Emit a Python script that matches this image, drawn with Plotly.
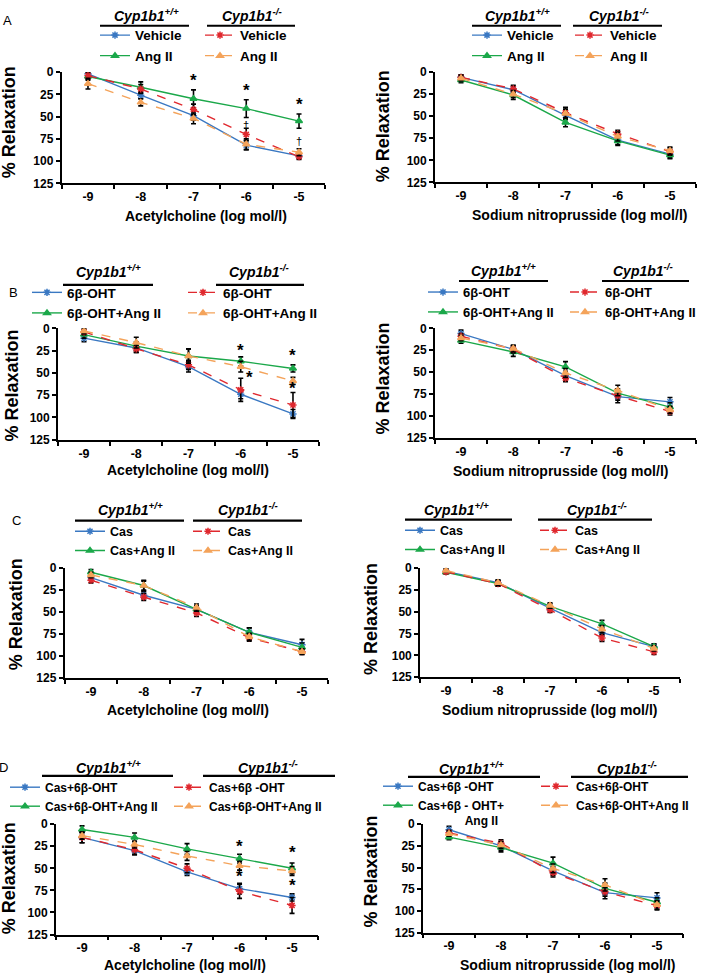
import plotly.graph_objects as go

W, H = 709, 979
doses = [-9, -8, -7, -6, -5]
tick_vals = [-9, -8, -7, -6, -5]
y_ticks = [0, 25, 50, 75, 100, 125]

# ---------------- data (% relaxation, mean and error) ----------------
# Panel A
A_ach_wt_veh = [2, 26, 49, 82, 94];   A_ach_wt_veh_e = [3, 4, 5, 5, 3]
A_ach_wt_ang = [5, 17, 30, 41, 55];   A_ach_wt_ang_e = [4, 6, 10, 10, 8]
A_ach_ko_veh = [4, 19, 42, 70, 95];   A_ach_ko_veh_e = [4, 5, 6, 7, 3]
A_ach_ko_ang = [13, 34, 52, 81, 90];  A_ach_ko_ang_e = [6, 4, 6, 6, 4]
A_snp_wt_veh = [6, 20, 49, 77, 93];   A_snp_wt_veh_e = [3, 4, 5, 5, 4]
A_snp_wt_ang = [9, 26, 57, 78, 94];   A_snp_wt_ang_e = [3, 5, 5, 5, 4]
A_snp_ko_veh = [6, 19, 46, 70, 90];   A_snp_ko_veh_e = [3, 4, 6, 4, 4]
A_snp_ko_ang = [7, 25, 47, 73, 89];   A_snp_ko_ang_e = [3, 4, 5, 5, 4]
# Panel B
B_ach_wt_oht = [11, 22, 43, 74, 96];  B_ach_wt_oht_e = [4, 5, 6, 5, 5]
B_ach_wt_ang = [7, 20, 31, 37, 45];   B_ach_wt_ang_e = [4, 5, 8, 5, 4]
B_ach_ko_oht = [4, 23, 41, 69, 86];   B_ach_ko_oht_e = [3, 4, 5, 13, 14]
B_ach_ko_ang = [3, 16, 31, 43, 59];   B_ach_ko_ang_e = [3, 6, 8, 6, 4]
B_snp_wt_oht = [6, 24, 54, 78, 84];   B_snp_wt_oht_e = [4, 4, 5, 7, 5]
B_snp_wt_ang = [14, 27, 44, 74, 90];  B_snp_wt_ang_e = [3, 5, 6, 5, 5]
B_snp_ko_oht = [9, 24, 57, 77, 95];   B_snp_ko_oht_e = [3, 4, 4, 5, 4]
B_snp_ko_ang = [11, 23, 51, 71, 93];  B_snp_ko_ang_e = [3, 4, 5, 6, 4]
# Panel C
C_ach_wt_cas = [11, 31, 47, 73, 87];  C_ach_wt_cas_e = [3, 4, 4, 5, 6]
C_ach_wt_ang = [5, 20, 47, 73, 90];   C_ach_wt_ang_e = [3, 6, 4, 5, 5]
C_ach_ko_cas = [14, 33, 51, 79, 95];  C_ach_ko_cas_e = [3, 4, 4, 4, 3]
C_ach_ko_ang = [8, 20, 45, 78, 95];   C_ach_ko_ang_e = [3, 5, 4, 4, 3]
C_snp_wt_cas = [4, 17, 46, 74, 90];   C_snp_wt_cas_e = [2, 3, 3, 4, 3]
C_snp_wt_ang = [5, 18, 44, 64, 90];   C_snp_wt_ang_e = [2, 3, 3, 4, 3]
C_snp_ko_cas = [4.5, 18, 48, 80, 96]; C_snp_ko_cas_e = [2, 3, 3, 4, 3]
C_snp_ko_ang = [3, 17, 43, 70, 92];   C_snp_ko_ang_e = [2, 3, 3, 4, 3]
# Panel D
D_ach_wt_oht = [15, 30, 54, 73, 83];  D_ach_wt_oht_e = [6, 5, 4, 6, 4]
D_ach_wt_ang = [6, 15, 28, 39, 50];   D_ach_wt_ang_e = [4, 5, 6, 5, 6]
D_ach_ko_oht = [15, 29, 50, 76, 92];  D_ach_ko_oht_e = [6, 5, 5, 8, 9]
D_ach_ko_ang = [13, 23, 36, 47, 53];  D_ach_ko_ang_e = [4, 4, 5, 5, 5]
D_snp_wt_oht = [6.5, 25, 54, 79, 85]; D_snp_wt_oht_e = [4, 5, 5, 7, 6]
D_snp_wt_ang = [15, 27, 45, 74, 90];  D_snp_wt_ang_e = [3, 5, 7, 6, 5]
D_snp_ko_oht = [10, 22, 56, 78, 94];  D_snp_ko_oht_e = [3, 4, 5, 5, 5]
D_snp_ko_ang = [11, 24, 51, 70, 93];  D_snp_ko_ang_e = [3, 4, 5, 7, 5]

# legend names
A_names = ["Vehicle", "Ang II", "Vehicle", "Ang II"]
B_names = ["6β-OHT", "6β-OHT+Ang II", "6β-OHT", "6β-OHT+Ang II"]
C_names = ["Cas", "Cas+Ang II", "Cas", "Cas+Ang II"]
D_names_l = ["Cas+6β-OHT", "Cas+6β-OHT+Ang II", "Cas+6β -OHT", "Cas+6β-OHT+Ang II"]
D_names_r = ["Cas+6β -OHT", "Cas+6β - OHT+<br>\u00a0\u00a0\u00a0\u00a0\u00a0\u00a0\u00a0\u00a0\u00a0\u00a0\u00a0\u00a0\u00a0\u00a0Ang II",
             "Cas+6β-OHT", "Cas+6β-OHT+Ang II"]

x_titles = ["Acetylcholine (log mol/l)", "Sodium nitroprusside (log mol/l)"]

# significance marks: (panel index, dose, value, text)
sig_marks = [
    (0, -7, 9, "*"), (0, -6, 21, "*"), (0, -5, 36, "*"),
    (0, -6, 59, "†"), (0, -5, 77, "†"),
    (2, -6, 25, "*"), (2, -5.84, 55, "*"), (2, -5, 30, "*"), (2, -5, 67, "*"),
    (6, -6, 25, "*"), (6, -6, 59, "*"), (6, -5, 32, "*"), (6, -5, 70, "*"),
]

# ---------------- layout geometry (pixels) ----------------
panels_px = [
    (61.6, 325.4, 66, 179), (434.9, 696.1, 66, 178),
    (57.9, 319.1, 326, 439), (434.9, 696.1, 326, 437),
    (64.6, 328.4, 569, 681), (420, 680, 569, 680),
    (55.8, 318.3, 829, 941), (423, 683, 829, 939),
]
headers = [
    (146, 252, 8, (100, 189), (207, 295), 19),
    (517, 619, 8, (472, 561), (573, 662), 19),
    (108, 259, 268, (63, 153), (216, 304), 282),
    (503, 643, 267, (459, 548), (602, 689), 278),
    (130, 248, 509, (75, 184), (193, 302), 521),
    (456, 597, 509, (405, 512), (538, 652), 520),
    (108, 268, 771, (42, 173), (203, 335), 780),
    (471, 627, 772, (408, 540), (571, 688), 781),
]
legends_px = [
    (100, 205, 31), (472, 575, 31),
    (32, 188, 292), (428, 570, 292),
    (75, 193, 535), (405, 540, 534),
    (10, 174, 795), (383, 541, 794),
]
legend_fonts = [13.5, 13.5, 13.5, 13, 12.5, 12.5, 12, 12]
ytitle_px = [(9, 117), (383, 121), (12, 384), (383, 377), (16, 616), (371, 621), (9, 884), (371, 877)]
xtitle_px = [(206, 212), (579, 211), (188, 470), (560, 471), (188, 713), (549, 713), (185, 972), (567, 972)]
panel_labels = [("A", 7, 14), ("B", 13, 290), ("C", 16, 521), ("D", 3, 772)]

series_sets = [
    ([A_ach_wt_veh, A_ach_wt_ang, A_ach_ko_veh, A_ach_ko_ang],
     [A_ach_wt_veh_e, A_ach_wt_ang_e, A_ach_ko_veh_e, A_ach_ko_ang_e], A_names),
    ([A_snp_wt_veh, A_snp_wt_ang, A_snp_ko_veh, A_snp_ko_ang],
     [A_snp_wt_veh_e, A_snp_wt_ang_e, A_snp_ko_veh_e, A_snp_ko_ang_e], A_names),
    ([B_ach_wt_oht, B_ach_wt_ang, B_ach_ko_oht, B_ach_ko_ang],
     [B_ach_wt_oht_e, B_ach_wt_ang_e, B_ach_ko_oht_e, B_ach_ko_ang_e], B_names),
    ([B_snp_wt_oht, B_snp_wt_ang, B_snp_ko_oht, B_snp_ko_ang],
     [B_snp_wt_oht_e, B_snp_wt_ang_e, B_snp_ko_oht_e, B_snp_ko_ang_e], B_names),
    ([C_ach_wt_cas, C_ach_wt_ang, C_ach_ko_cas, C_ach_ko_ang],
     [C_ach_wt_cas_e, C_ach_wt_ang_e, C_ach_ko_cas_e, C_ach_ko_ang_e], C_names),
    ([C_snp_wt_cas, C_snp_wt_ang, C_snp_ko_cas, C_snp_ko_ang],
     [C_snp_wt_cas_e, C_snp_wt_ang_e, C_snp_ko_cas_e, C_snp_ko_ang_e], C_names),
    ([D_ach_wt_oht, D_ach_wt_ang, D_ach_ko_oht, D_ach_ko_ang],
     [D_ach_wt_oht_e, D_ach_wt_ang_e, D_ach_ko_oht_e, D_ach_ko_ang_e], D_names_l),
    ([D_snp_wt_oht, D_snp_wt_ang, D_snp_ko_oht, D_snp_ko_ang],
     [D_snp_wt_oht_e, D_snp_wt_ang_e, D_snp_ko_oht_e, D_snp_ko_ang_e], D_names_r),
]

colors = ["#3A78C2", "#1BA84A", "#E0282E", "#F4A35A"]
dashes = ["solid", "solid", "dash", "dash"]
symbols = ["asterisk-open", "triangle-up", "asterisk-open", "triangle-up"]

FONT = "Liberation Sans, Arial, sans-serif"


def px2x(p):
    return p / W


def px2y(p):
    return 1 - p / H


fig = go.Figure()
layout = dict(
    width=W, height=H, margin=dict(l=0, r=0, t=0, b=0),
    paper_bgcolor="white", plot_bgcolor="white",
    font=dict(family=FONT, color="black"),
    annotations=[], shapes=[],
)

for i, (x0, x1, yt, yb) in enumerate(panels_px):
    ax = "" if i == 0 else str(i + 1)
    vals, errs, names = series_sets[i]
    for s in range(4):
        leg_idx = 2 * i + (0 if s < 2 else 1) + 1
        leg_name = "legend" if leg_idx == 1 else f"legend{leg_idx}"
        fig.add_trace(go.Scatter(
            x=doses, y=vals[s], name=names[s],
            mode="lines+markers",
            line=dict(color=colors[s], width=1.4, dash=dashes[s]),
            marker=dict(symbol=symbols[s], size=6, color=colors[s],
                        line=dict(color=colors[s], width=1.5)),
            error_y=dict(type="data", array=errs[s], color="black",
                         thickness=1.6, width=2.5),
            xaxis="x" + ax, yaxis="y" + ax, legend=leg_name,
        ))
    layout["xaxis" + ax] = dict(
        domain=[px2x(x0), px2x(x1)], range=[-9.5, -4.5], anchor="y" + ax,
        showgrid=False, zeroline=False, showline=True, linecolor="black", linewidth=1.6,
        tickvals=tick_vals, ticktext=[str(v) for v in tick_vals], ticks="",
        tickfont=dict(family=FONT, size=12.5, color="black", weight="bold"),
        ticklabelstandoff=1,
        minor=dict(tickvals=[-9.5, -8.5, -7.5, -6.5, -5.5, -4.5], ticks="outside",
                   ticklen=4, tickwidth=1.5, tickcolor="black"),
        fixedrange=True,
    )
    layout["yaxis" + ax] = dict(
        domain=[px2y(yb), px2y(yt)], range=[125, 0], anchor="x" + ax,
        showgrid=False, zeroline=False, showline=True, linecolor="black", linewidth=1.6,
        tickvals=y_ticks, ticks="outside", ticklen=4, tickwidth=1.5, tickcolor="black",
        tickfont=dict(family=FONT, size=12, color="black", weight="bold"),
        fixedrange=True,
    )
    lw, lk, ly = legends_px[i]
    fs = legend_fonts[i]
    for c, lx in enumerate([lw, lk]):
        leg_idx = 2 * i + c + 1
        leg_name = "legend" if leg_idx == 1 else f"legend{leg_idx}"
        layout[leg_name] = dict(
            x=px2x(lx - 5), y=px2y(ly - 18), xanchor="left", yanchor="top",
            bgcolor="rgba(0,0,0,0)", borderwidth=0, traceorder="normal",
            font=dict(family=FONT, size=fs, color="black", weight="bold"),
            valign="top", itemclick=False, itemdoubleclick=False,
        )
    hw, hk, hy, lnw, lnk, lny = headers[i]
    for cx, txt in [(hw, "<i><b>Cyp1b1<sup>+/+</sup></b></i>"), (hk, "<i><b>Cyp1b1<sup>-/-</sup></b></i>")]:
        layout["annotations"].append(dict(
            x=px2x(cx), y=px2y(hy), xref="paper", yref="paper", text=txt,
            showarrow=False, xanchor="center", yanchor="middle",
            font=dict(family=FONT, size=14, color="black"),
        ))
    for (a, b) in [lnw, lnk]:
        layout["shapes"].append(dict(
            type="line", xref="paper", yref="paper",
            x0=px2x(a), x1=px2x(b), y0=px2y(lny), y1=px2y(lny),
            line=dict(color="black", width=2.2),
        ))
    tx, ty = ytitle_px[i]
    layout["annotations"].append(dict(
        x=px2x(tx), y=px2y(ty), xref="paper", yref="paper", text="<b>% Relaxation</b>",
        textangle=-90, showarrow=False, xanchor="center", yanchor="middle",
        font=dict(family=FONT, size=18, color="black"),
    ))
    tx, ty = xtitle_px[i]
    layout["annotations"].append(dict(
        x=px2x(tx), y=px2y(ty), xref="paper", yref="paper",
        text="<b>" + x_titles[i % 2] + "</b>",
        showarrow=False, xanchor="center", yanchor="middle",
        font=dict(family=FONT, size=14, color="black"),
    ))

for (p, dx, v, t) in sig_marks:
    ax = "" if p == 0 else str(p + 1)
    big = t == "*"
    layout["annotations"].append(dict(
        x=dx, y=v, xref="x" + ax, yref="y" + ax, text="<b>" + t + "</b>" if big else t,
        showarrow=False, xanchor="center", yanchor="middle",
        font=dict(family=FONT, size=17 if big else 11, color="black"),
    ))

for (lab, lx, ly) in panel_labels:
    layout["annotations"].append(dict(
        x=px2x(lx), y=px2y(ly), xref="paper", yref="paper", text=lab,
        showarrow=False, xanchor="center", yanchor="middle",
        font=dict(family=FONT, size=13, color="black"),
    ))

fig.update_layout(**layout)
fig.write_html("out.html", config={"displayModeBar": False},
               post_script="document.body.style.margin='0px';document.body.style.padding='0px';")
